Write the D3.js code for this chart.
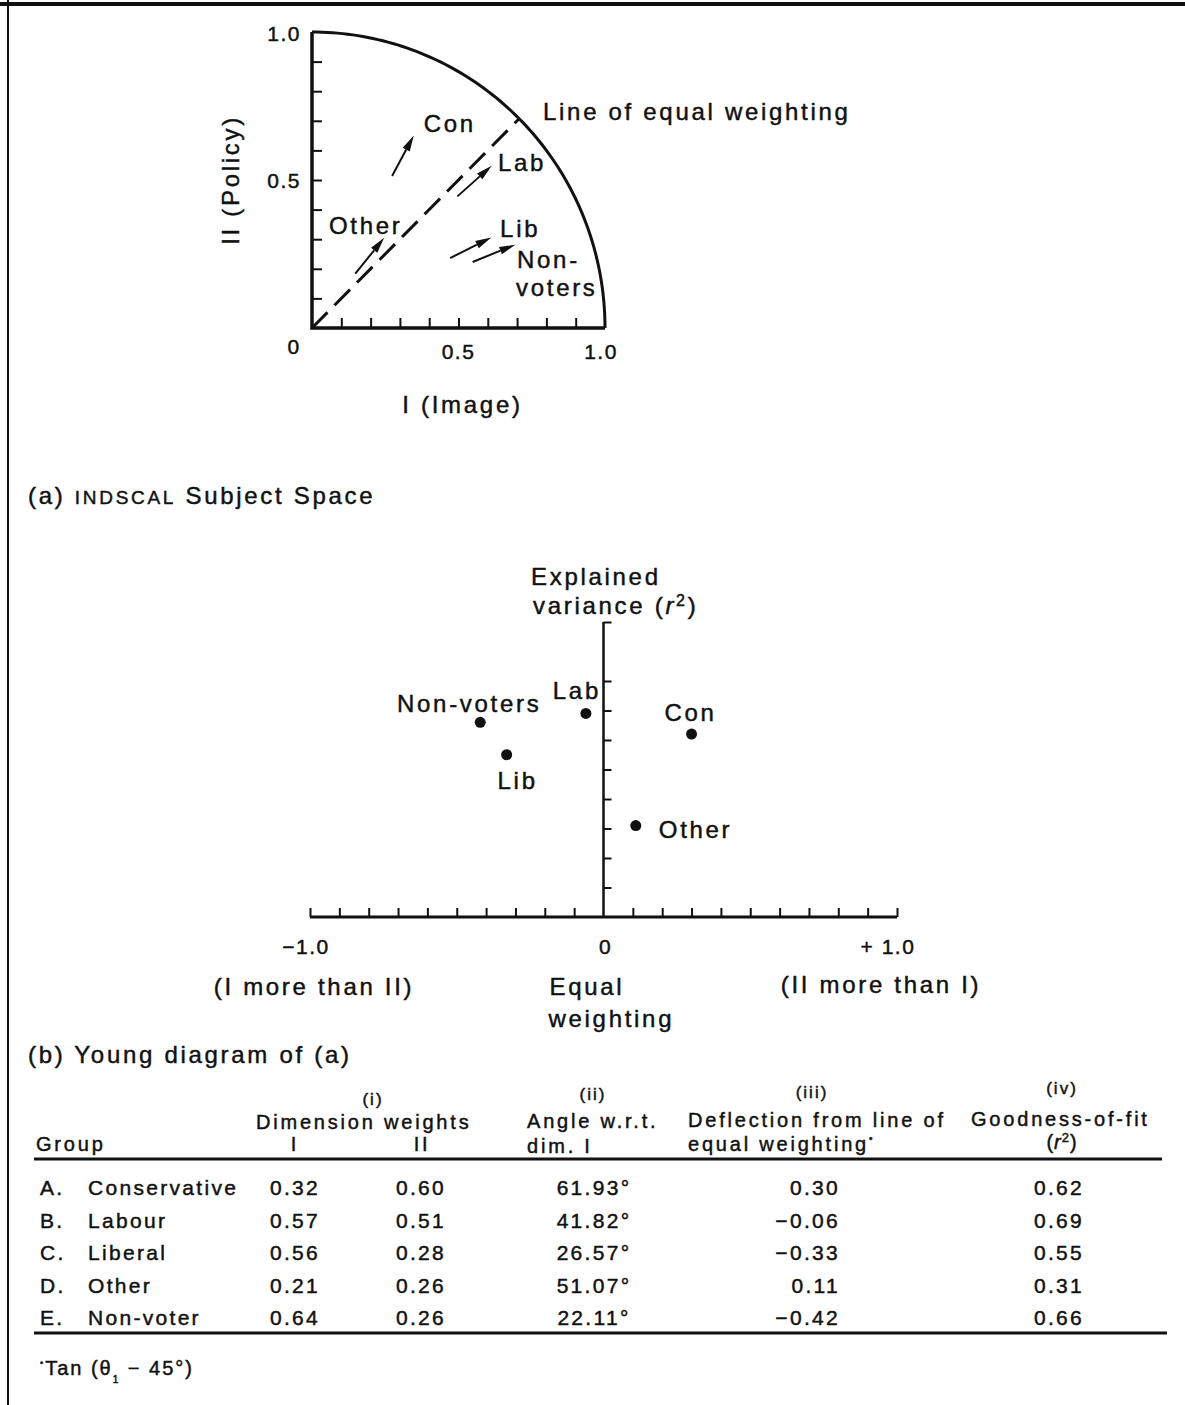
<!DOCTYPE html>
<html>
<head>
<meta charset="utf-8">
<script src="https://cdn.jsdelivr.net/npm/d3@7"></script>
<style>
body { margin: 0; background: #fff; }
svg text { font-family: "Liberation Sans", Arial, Helvetica, sans-serif; fill: #111; stroke: #111; stroke-width: 0.45px; }
.tick line { stroke: #111; stroke-width: 2; }
</style>
</head>
<body>
<div id="chart"></div>
<script>
var groups = ["Conservative", "Labour", "Liberal", "Other", "Non-voter"];
var letters = ["A.", "B.", "C.", "D.", "E."];
var shortNames = ["Con", "Lab", "Lib", "Other", "Non-voters"];
var weightI = [0.32, 0.57, 0.56, 0.21, 0.64];
var weightII = [0.60, 0.51, 0.28, 0.26, 0.26];
var angleDeg = [61.93, 41.82, 26.57, 51.07, 22.11];
var deflection = [0.30, -0.06, -0.33, 0.11, -0.42];
var goodness = [0.62, 0.69, 0.55, 0.31, 0.66];

var topTickValues = [0.1, 0.2, 0.3, 0.4, 0.5, 0.6, 0.7, 0.8, 0.9];
var topTickLabels = ["0", "0.5", "1.0"];
var midXTicks = [-1, -0.9, -0.8, -0.7, -0.6, -0.5, -0.4, -0.3, -0.2, -0.1,
                 0.1, 0.2, 0.3, 0.4, 0.5, 0.6, 0.7, 0.8, 0.9, 1];
var midYTicks = [0.1, 0.2, 0.3, 0.4, 0.5, 0.6, 0.7, 0.8, 1];
var midTickValues = [-1, 0, 1];
var midTickLabels = ["\u22121.0", "0", "+ 1.0"];

var W = 1185, H = 1405;
var ink = "#111";

var svg = d3.select("#chart")
  .append("svg")
    .attr("width", W)
    .attr("height", H);

// frame of the page
svg.append("line").attr("x1", 0).attr("y1", 4).attr("x2", W).attr("y2", 4)
  .attr("stroke", ink).attr("stroke-width", 4);
svg.append("line").attr("x1", 8).attr("y1", 0).attr("x2", 8).attr("y2", H)
  .attr("stroke", ink).attr("stroke-width", 2);

function label(g, x, y, txt, size, ls, anchor) {
  return g.append("text")
    .attr("x", x).attr("y", y)
    .attr("dy", "0.35em")
    .style("font-size", size + "px")
    .style("letter-spacing", ls + "px")
    .attr("text-anchor", anchor || "start")
    .text(txt);
}

////////////////// (a) INDSCAL subject space //////////////////
var x1 = d3.scaleLinear().domain([0, 1]).range([312, 605]);
var y1 = d3.scaleLinear().domain([0, 1]).range([328, 32]);
var gA = svg.append("g");

gA.append("g")
  .attr("transform", "translate(" + x1(0) + ",0)")
  .call(d3.axisLeft(y1).tickValues(topTickValues).tickSize(-10).tickFormat(""))
  .call(function(g) { g.select(".domain").remove(); });
gA.append("g")
  .attr("transform", "translate(0," + y1(0) + ")")
  .call(d3.axisBottom(x1).tickValues(topTickValues).tickSize(-10).tickFormat(""))
  .call(function(g) { g.select(".domain").remove(); });

gA.append("path")
  .attr("d", d3.line()([[x1(0), y1(1)], [x1(0), y1(0)], [x1(1), y1(0)]]))
  .attr("fill", "none").attr("stroke", ink).attr("stroke-width", 3.5);

var arcPts = d3.range(0, 91).map(function(a) {
  var r = a * Math.PI / 180;
  return [x1(Math.cos(r)), y1(Math.sin(r))];
});
gA.append("path").attr("d", d3.line()(arcPts))
  .attr("fill", "none").attr("stroke", ink).attr("stroke-width", 3);

// line of equal weighting
gA.append("line")
  .attr("x1", x1(0)).attr("y1", y1(0))
  .attr("x2", x1(Math.SQRT1_2)).attr("y2", y1(Math.SQRT1_2))
  .attr("stroke", ink).attr("stroke-width", 3)
  .attr("stroke-dasharray", "22,10");
label(gA, 543, 112, "Line of equal weighting", 24, 2.7);

// arrows
weightI.forEach(function(wi, i) {
  var wii = weightII[i];
  var th = Math.atan2(wii, wi);
  var dx = Math.cos(th), dy = -Math.sin(th);
  var cx = x1(wi), cy = y1(wii);
  var tail = [cx - dx * 29, cy - dy * 29];
  var tip = [cx + dx * 17, cy + dy * 17];
  var nx = -dy, ny = dx;
  var bx = tip[0] - dx * 16, by = tip[1] - dy * 16;
  gA.append("line")
    .attr("x1", tail[0]).attr("y1", tail[1])
    .attr("x2", bx).attr("y2", by)
    .attr("stroke", ink).attr("stroke-width", 2);
  gA.append("path")
    .attr("d", d3.line()([tip, [bx + nx * 4, by + ny * 4], [bx - nx * 4, by - ny * 4]]) + "Z")
    .attr("fill", ink);
});

var topLabelPos = {
  "Con": [[18, -27, "Con"]],
  "Lab": [[19, -14, "Lab"]],
  "Lib": [[24, -17, "Lib"]],
  "Other": [[29, -25, "Other", "end"]],
  "Non-voters": [[17.5, 9, "Non-"], [16.5, 37, "voters"]]
};
shortNames.forEach(function(n, i) {
  topLabelPos[n].forEach(function(p) {
    label(gA, x1(weightI[i]) + p[0], y1(weightII[i]) + p[1], p[2], 24, 2.7, p[3]);
  });
});

// tick labels
label(gA, x1(0) - 11, y1(1) + 2, topTickLabels[2], 21, 1.5, "end");
label(gA, x1(0) - 11, y1(0.5) + 1, topTickLabels[1], 21, 1.5, "end");
label(gA, x1(0) - 18, y1(0) + 19, topTickLabels[0], 21, 1.5, "middle");
label(gA, x1(0.5), y1(0) + 24, topTickLabels[1], 21, 1.5, "middle");
label(gA, x1(1) - 4, y1(0) + 24, topTickLabels[2], 21, 1.5, "middle");

// axis titles
gA.append("text")
  .attr("transform", "translate(231," + y1(0.5) + ") rotate(-90)")
  .attr("dy", "0.35em")
  .attr("text-anchor", "middle")
  .style("font-size", "24px").style("letter-spacing", "2.7px")
  .text("II (Policy)");
label(gA, x1(0.5) + 4, 405, "I (Image)", 24, 2.7, "middle");

var capA = gA.append("text").attr("x", 28).attr("y", 504)
  .style("font-size", "24px").style("letter-spacing", "2.7px");
capA.append("tspan").text("(a) ");
capA.append("tspan").style("font-size", "19px").text("INDSCAL");
capA.append("tspan").text(" Subject Space");

////////////////// (b) Young diagram //////////////////
var x2 = d3.scaleLinear().domain([-1, 1]).range([310, 897]);
var y2 = d3.scaleLinear().domain([0, 1]).range([917, 622]);
var gB = svg.append("g");

gB.append("g")
  .attr("transform", "translate(0," + y2(0) + ")")
  .call(d3.axisBottom(x2).tickValues(midXTicks).tickSize(-9).tickFormat(""))
  .call(function(g) { g.select(".domain").remove(); });
gB.append("g")
  .attr("transform", "translate(" + x2(0) + ",0)")
  .call(d3.axisLeft(y2).tickValues(midYTicks).tickSize(-8).tickFormat(""))
  .call(function(g) { g.select(".domain").remove(); });

gB.append("line")
  .attr("x1", x2(-1)).attr("y1", y2(0)).attr("x2", x2(1)).attr("y2", y2(0))
  .attr("stroke", ink).attr("stroke-width", 3);
gB.append("line")
  .attr("x1", x2(0)).attr("y1", y2(0)).attr("x2", x2(0)).attr("y2", y2(1))
  .attr("stroke", ink).attr("stroke-width", 2.5);

gB.selectAll("circle.grp")
  .data(deflection)
  .enter().append("circle")
    .attr("class", "grp")
    .attr("cx", function(d) { return x2(d); })
    .attr("cy", function(d, i) { return y2(goodness[i]); })
    .attr("r", 5.5)
    .attr("fill", ink);

var midLabelPos = {
  "Con": [-1, -22, "middle"],
  "Lab": [-9, -23, "middle"],
  "Lib": [11, 26, "middle"],
  "Other": [23, 4, "start"],
  "Non-voters": [-11, -19, "middle"]
};
shortNames.forEach(function(n, i) {
  var p = midLabelPos[n];
  label(gB, x2(deflection[i]) + p[0], y2(goodness[i]) + p[1], n, 24, 2.7, p[2]);
});

label(gB, 531, 577, "Explained", 24, 2.7);
var varT = gB.append("text").attr("x", 533).attr("y", 614)
  .style("font-size", "24px").style("letter-spacing", "2.7px");
varT.append("tspan").text("variance (");
varT.append("tspan").style("font-style", "italic").text("r");
varT.append("tspan").attr("dy", -8).style("font-size", "16px").text("2");
varT.append("tspan").attr("dy", 8).text(")");

var midOff = [-4, 2, -9];
midTickValues.forEach(function(v, i) {
  label(gB, x2(v) + midOff[i], 947, midTickLabels[i], 21, 1.5, "middle");
});
label(gB, x2(-1) + 4, 987, "(I more than II)", 24, 2.7, "middle");
label(gB, x2(0) - 54, 987, "Equal", 24, 2.7);
label(gB, x2(0) - 55, 1019, "weighting", 24, 2.7);
label(gB, x2(1) - 16, 985, "(II more than I)", 24, 2.7, "middle");

label(gB, 28, 1055, "(b) Young diagram of (a)", 24, 2.7);

////////////////// table //////////////////
var gT = svg.append("g");
var hs = 20, hls = 2.8;

label(gT, 373, 1099, "(i)", 17, 2, "middle");
label(gT, 593, 1094, "(ii)", 17, 2, "middle");
label(gT, 812, 1092, "(iii)", 17, 2, "middle");
label(gT, 1062, 1088, "(iv)", 17, 2, "middle");

label(gT, 256, 1122, "Dimension weights", hs, hls);
label(gT, 527, 1121, "Angle w.r.t.", hs, hls);
label(gT, 688, 1120, "Deflection from line of", hs, hls);
label(gT, 971, 1119, "Goodness-of-fit", hs, hls);

label(gT, 36, 1144, "Group", hs, hls);
label(gT, 295, 1144, "I", hs, hls, "middle");
label(gT, 422, 1144, "II", hs, hls, "middle");
label(gT, 527, 1146, "dim. I", hs, hls);
var ew = gT.append("text").attr("x", 688).attr("y", 1151)
  .style("font-size", hs + "px").style("letter-spacing", hls + "px");
ew.append("tspan").text("equal weighting");
ew.append("tspan").attr("dy", -9).style("font-size", "10px").text("\u2022");
var rr = gT.append("text").attr("x", 1062).attr("y", 1149)
  .attr("text-anchor", "middle")
  .style("font-size", hs + "px").style("letter-spacing", "1px");
rr.append("tspan").text("(");
rr.append("tspan").style("font-style", "italic").text("r");
rr.append("tspan").attr("dy", -7).style("font-size", "13px").text("2");
rr.append("tspan").attr("dy", 7).text(")");

gT.append("line").attr("x1", 34).attr("y1", 1159).attr("x2", 1162).attr("y2", 1159)
  .attr("stroke", ink).attr("stroke-width", 3);
gT.append("line").attr("x1", 34).attr("y1", 1333).attr("x2", 1167).attr("y2", 1333)
  .attr("stroke", ink).attr("stroke-width", 3);

var rowY = d3.scalePoint().domain(groups).range([1188, 1318]);
var bs = 21, bls = 2.3;
var fmt2 = d3.format(".2f");
groups.forEach(function(gname, i) {
  var y = rowY(gname);
  label(gT, 40, y, letters[i], bs, bls);
  label(gT, 88, y, gname, bs, bls);
  label(gT, 295, y, fmt2(weightI[i]), bs, bls, "middle");
  label(gT, 421, y, fmt2(weightII[i]), bs, bls, "middle");
  label(gT, 594, y, fmt2(angleDeg[i]) + "\u00b0", bs, bls, "middle");
  label(gT, 840, y, fmt2(deflection[i]).replace("-", "\u2212"), bs, bls, "end");
  label(gT, 1059, y, fmt2(goodness[i]), bs, bls, "middle");
});

// footnote
var fn = gT.append("text").attr("x", 40).attr("y", 1375)
  .style("font-size", "20px").style("letter-spacing", "2px");
fn.append("tspan").attr("dy", -9).style("font-size", "9px").text("\u2022");
fn.append("tspan").attr("dy", 9).text("Tan (\u03b8");
fn.append("tspan").attr("dy", 8).style("font-size", "10px").text("1");
fn.append("tspan").attr("dy", -8).text(" \u2212 45\u00b0)");
</script>
</body>
</html>
